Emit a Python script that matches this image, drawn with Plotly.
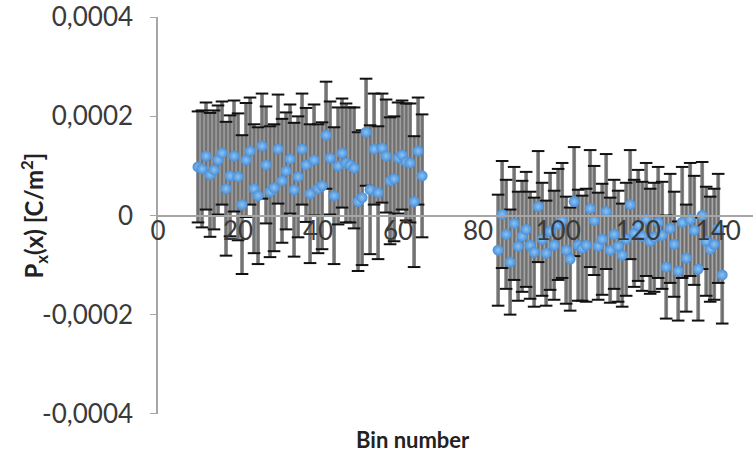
import plotly.graph_objects as go

# Bin numbers of the two measured regions
bins_left = list(range(10, 67))
bins_right = list(range(85, 142))

# Polarisation per bin (C/m^2) and its uncertainty
p_left = [
    98e-6, 94e-6, 120e-6, 82e-6, 92e-6, 112e-6, 126e-6, 54e-6, 80e-6, 120e-6,
    78e-6, 22e-6, 112e-6, 130e-6, 54e-6, 40e-6, 140e-6, 102e-6, 48e-6, 56e-6,
    134e-6, 70e-6, 90e-6, 114e-6, 52e-6, 78e-6, 134e-6, 102e-6, 44e-6, 112e-6,
    54e-6, 60e-6, 162e-6, 116e-6, 40e-6, 100e-6, 126e-6, 106e-6, 102e-6, 96e-6,
    28e-6, 36e-6, 168e-6, 52e-6, 134e-6, 46e-6, 136e-6, 120e-6, 70e-6, 74e-6,
    116e-6, 122e-6, 108e-6, 106e-6, 28e-6, 130e-6, 80e-6,
]
err_left = [
    112e-6, 118e-6, 108e-6, 125e-6, 120e-6, 110e-6, 104e-6, 135e-6, 122e-6, 112e-6,
    128e-6, 140e-6, 115e-6, 108e-6, 130e-6, 138e-6, 106e-6, 118e-6, 132e-6, 128e-6,
    110e-6, 125e-6, 118e-6, 110e-6, 135e-6, 122e-6, 112e-6, 115e-6, 140e-6, 112e-6,
    130e-6, 128e-6, 108e-6, 114e-6, 138e-6, 118e-6, 110e-6, 120e-6, 116e-6, 122e-6,
    140e-6, 136e-6, 108e-6, 130e-6, 112e-6, 134e-6, 110e-6, 114e-6, 128e-6, 126e-6,
    112e-6, 110e-6, 118e-6, 120e-6, 132e-6, 108e-6, 124e-6,
]
p_right = [
    -70e-6, 2e-6, -38e-6, -94e-6, -16e-6, -62e-6, -42e-6, -28e-6, -60e-6, -74e-6,
    18e-6, -48e-6, -76e-6, -32e-6, -60e-6, -18e-6, -10e-6, -70e-6, -88e-6, 28e-6,
    -60e-6, -66e-6, -60e-6, 14e-6, -10e-6, -62e-6, -48e-6, 8e-6, -70e-6, -38e-6,
    -62e-6, -80e-6, -48e-6, 22e-6, -36e-6, -20e-6, -42e-6, -8e-6, -52e-6, -44e-6,
    -14e-6, -40e-6, -104e-6, -26e-6, -58e-6, -112e-6, -14e-6, -86e-6, -8e-6, -30e-6,
    -108e-6, 0.0, -52e-6, -68e-6, -58e-6, -26e-6, -120e-6,
]
err_right = [
    112e-6, 108e-6, 110e-6, 106e-6, 114e-6, 110e-6, 112e-6, 116e-6, 108e-6, 110e-6,
    112e-6, 114e-6, 106e-6, 118e-6, 110e-6, 112e-6, 116e-6, 108e-6, 104e-6, 110e-6,
    112e-6, 106e-6, 114e-6, 118e-6, 110e-6, 108e-6, 112e-6, 116e-6, 106e-6, 110e-6,
    112e-6, 104e-6, 114e-6, 110e-6, 108e-6, 112e-6, 110e-6, 114e-6, 106e-6, 110e-6,
    112e-6, 108e-6, 104e-6, 110e-6, 106e-6, 100e-6, 112e-6, 108e-6, 114e-6, 110e-6,
    104e-6, 108e-6, 110e-6, 106e-6, 112e-6, 110e-6, 98e-6,
]

y_tickvals = [-0.0004, -0.0002, 0, 0.0002, 0.0004]
y_ticktext = ["-0,0004", "-0,0002", "0", "0,0002", "0,0004"]
x_tickvals = [0, 20, 40, 60, 80, 100, 120, 140]

bins = bins_left + bins_right
vals = p_left + p_right
errs = err_left + err_right
cap_hi = [v + e for v, e in zip(vals, errs)]
cap_lo = [v - e for v, e in zip(vals, errs)]

fig = go.Figure()

# wide grey error-bar bands
fig.add_trace(go.Scatter(
    x=bins, y=vals, mode="markers",
    marker=dict(size=1, color="rgba(0,0,0,0)"),
    error_y=dict(type="data", array=errs, color="#888888", thickness=3.8, width=0),
    hoverinfo="skip", showlegend=False,
))
# thin darker stems
fig.add_trace(go.Scatter(
    x=bins, y=vals, mode="markers",
    marker=dict(size=1, color="rgba(0,0,0,0)"),
    error_y=dict(type="data", array=errs, color="#4d4d4d", thickness=0.7, width=0),
    hoverinfo="skip", showlegend=False,
))
# black caps at both ends
fig.add_trace(go.Scatter(
    x=bins + bins, y=cap_hi + cap_lo, mode="markers",
    marker=dict(symbol="line-ew", size=9, line=dict(color="#111111", width=2)),
    hoverinfo="skip", showlegend=False,
))
# data points
fig.add_trace(go.Scatter(
    x=bins, y=vals, mode="markers",
    marker=dict(size=11, color="#4a8fd8",
                gradient=dict(type="radial", color="#8cc3f2"),
                line=dict(width=0)),
    showlegend=False,
))

tick_font = dict(family="Lato, Carlito, sans-serif", size=26, color="#3a3a3a")

fig.update_layout(
    width=753, height=455,
    margin=dict(l=158, r=0, t=14, b=41),
    paper_bgcolor="white", plot_bgcolor="white",
    separators=",.",
    xaxis=dict(
        range=[0, 148.7], tickvals=x_tickvals, showgrid=False, zeroline=False,
        showline=True, linecolor="#a6a6a6", linewidth=1.5,
        anchor="free", position=0.5, ticks="", tickfont=tick_font,
        ticklabelstandoff=-7, ticklabeloverflow="allow",
    ),
    yaxis=dict(
        range=[-0.0004005, 0.0004005], tickvals=y_tickvals, ticktext=y_ticktext,
        showgrid=False, zeroline=False, showline=True, linecolor="#a6a6a6",
        linewidth=1.5, ticks="outside", ticklen=6, tickcolor="#a6a6a6",
        tickfont=tick_font, ticklabelstandoff=12, ticklabeloverflow="allow",
    ),
    annotations=[
        dict(text="<b>P<sub>x</sub>(x) [C/m<sup>2</sup>]</b>", textangle=-90,
             xref="paper", yref="paper", x=(33 - 158) / 595, y=0.5,
             xanchor="center", yanchor="middle", showarrow=False,
             font=dict(family="Lato, Carlito, sans-serif", size=24, color="#222222")),
        dict(text="<b>Bin number</b>", xref="paper", yref="paper",
             x=(413 - 158) / 595, y=(414 - 440) / 400,
             xanchor="center", yanchor="middle", showarrow=False,
             font=dict(family="Lato, Carlito, sans-serif", size=22, color="#222222")),
    ],
)

fig.write_html("out.html")
